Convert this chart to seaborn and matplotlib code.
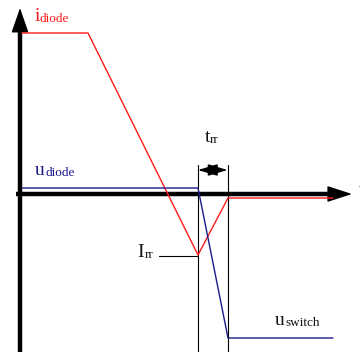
import matplotlib
matplotlib.use("Agg")
import matplotlib.pyplot as plt
import seaborn as sns

# ---- data (time axis, amplitude), origin at axes intersection ----
t_i = [2, 68, 178, 208, 313]
i_diode = [161, 161, -61, -4, -4]
t_u = [2, 178, 208, 313]
u_diode = [6, 6, -144, -144]
t_rr_start, t_rr_end = 178, 207.5
I_rr = -61

RED = "#ff1a1a"
BLUE = "#1a1a8c"

sns.set_theme(style="white")
plt.rcParams["font.family"] = ["Liberation Serif", "DejaVu Serif"]

fig = plt.figure(figsize=(3.6, 3.52), dpi=100)
ax = fig.add_axes([0, 0, 1, 1])
ax.set_xlim(-20, 340)
ax.set_ylim(-158, 194)
ax.axis("off")

# axes with arrowheads
ax.plot([0, 0], [-160, 170], color="black", lw=3.2, solid_capstyle="butt", zorder=3)
ax.annotate("", xy=(0, 186), xytext=(0, 166),
            arrowprops=dict(arrowstyle="-|>,head_length=1.3,head_width=0.45",
                            color="black", lw=1, shrinkA=0, shrinkB=0), zorder=3)
ax.plot([-4, 316], [0, 0], color="black", lw=3.2, solid_capstyle="butt", zorder=3)
ax.annotate("", xy=(332, 0), xytext=(312, 0),
            arrowprops=dict(arrowstyle="-|>,head_length=1.3,head_width=0.42",
                            color="black", lw=1, shrinkA=0, shrinkB=0), zorder=3)

# waveforms
sns.lineplot(x=t_i, y=i_diode, sort=False, estimator=None, color=RED, lw=1, ax=ax, zorder=4)
sns.lineplot(x=t_u, y=u_diode, sort=False, estimator=None, color=BLUE, lw=1, ax=ax, zorder=4)

# t_rr markers
for xv in (t_rr_start, t_rr_end):
    ax.plot([xv, xv], [29, -160], color="black", lw=0.8, zorder=2)
ax.annotate("", xy=(t_rr_end, 24), xytext=(t_rr_start, 24),
            arrowprops=dict(arrowstyle="<|-|>,head_length=1.0,head_width=0.3",
                            color="black", lw=1, shrinkA=0, shrinkB=0))
# I_rr marker
ax.plot([139, t_rr_start], [I_rr - 1, I_rr - 1], color="black", lw=0.8)

# labels
def label(x, y, main, sub, color, dx):
    ax.text(x, y, main, fontsize=14, color=color, ha="left", va="baseline")
    ax.text(x + dx, y - 1, sub, fontsize=9.5, color=color, ha="left", va="baseline")

label(15, 173, "i", "diode", RED, 4.5)
label(15, 19, "u", "diode", BLUE, 11)
label(255, -131, "u", "switch", "#111111", 11)
label(117, -63, "I", "rr", "#111111", 8)
label(185, 52, "t", "rr", "#111111", 4.5)
ax.text(338.5, -1, "t", fontsize=14, color="black", ha="left", va="baseline")

fig.savefig("out.png", dpi=100)
